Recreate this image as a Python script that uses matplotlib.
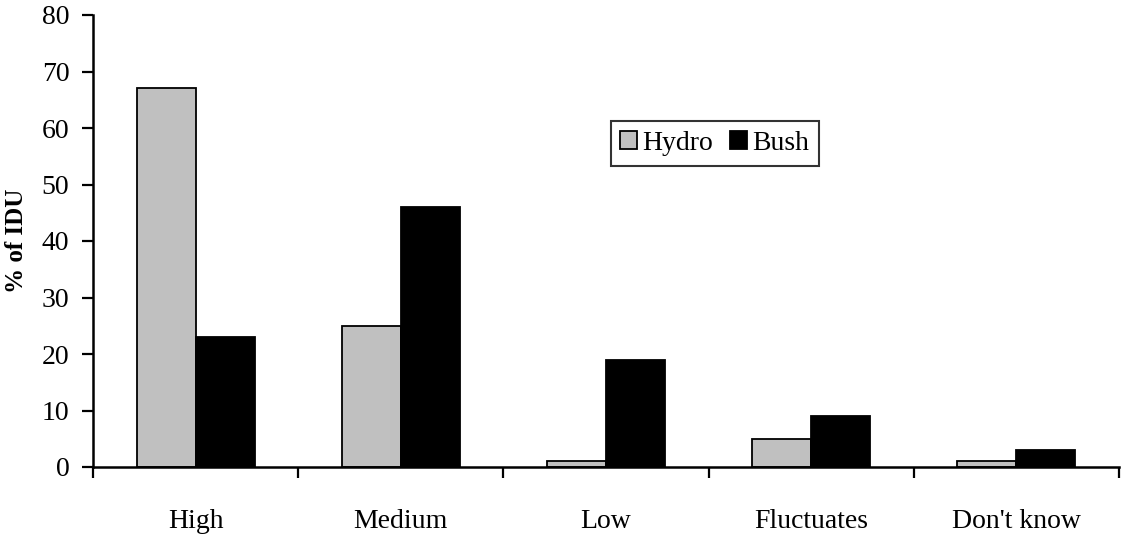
import matplotlib.pyplot as plt
import numpy as np

categories = ["High", "Medium", "Low", "Fluctuates", "Don't know"]
hydro = [67, 25, 1, 5, 1]
bush = [23, 46, 19, 9, 3]

plt.rcParams['font.family'] = ['Liberation Serif', 'DejaVu Serif']

fig = plt.figure(figsize=(11.24, 5.37), dpi=100)
ax = fig.add_axes([93 / 1124, 1 - 467 / 537, 1026 / 1124, 452 / 537])

x = np.arange(len(categories))
w = 0.288
ax.bar(x - w / 2, hydro, w, color='#c0c0c0', edgecolor='black', linewidth=1.3, label='Hydro')
ax.bar(x + w / 2, bush, w, color='black', edgecolor='black', linewidth=1.3, label='Bush')

ax.set_xlim(-0.5, len(categories) - 0.5)
ax.set_ylim(0, 80)
ax.set_yticks(range(0, 81, 10))
ax.set_xticks(np.arange(-0.5, len(categories), 1.0))
ax.set_xticklabels([])
ax.set_xticks(x, minor=True)
ax.set_xticklabels(categories, minor=True)
ax.tick_params(axis='x', which='major', direction='out', length=8, width=1.6)
ax.tick_params(axis='x', which='minor', length=0, pad=30, labelsize=20)
ax.tick_params(axis='y', direction='out', length=8, width=1.6, labelsize=20, pad=9)

for s in ['top', 'right']:
    ax.spines[s].set_visible(False)
for s in ['left', 'bottom']:
    ax.spines[s].set_linewidth(1.8)

ax.set_ylabel('% of IDU', fontsize=18, fontweight='bold')
ax.yaxis.set_label_coords(-0.063, 0.5)

leg = ax.legend(loc='center', bbox_to_anchor=(0.606, 0.716), ncol=2, fontsize=20,
                frameon=True, fancybox=False, edgecolor='black', handlelength=0.6,
                handleheight=0.6, handletextpad=0.2, columnspacing=0.6,
                borderpad=0.35, borderaxespad=0)
leg.get_frame().set_linewidth(1.5)

fig.savefig('out.png', dpi=100)
